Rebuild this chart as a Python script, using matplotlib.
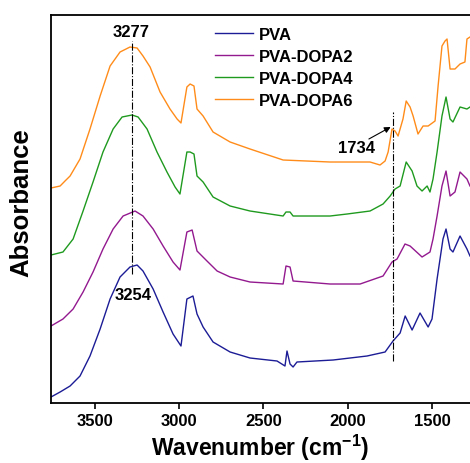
import matplotlib.pyplot as plt

plt.rcParams['font.family'] = ['Liberation Sans', 'DejaVu Sans']
plt.rcParams['font.weight'] = 'bold'
plt.rcParams['mathtext.fontset'] = 'custom'
plt.rcParams['mathtext.rm'] = 'Liberation Sans'
plt.rcParams['mathtext.bf'] = 'Liberation Sans:bold'

# wavenumber (cm-1) and absorbance (offset, arbitrary units)
wn_pva = [3758, 3704, 3645, 3586, 3527, 3467, 3408, 3349, 3290, 3248, 3213, 3153, 3094,
          3035, 2988, 2953, 2917, 2893, 2857, 2798, 2697, 2579, 2419, 2372, 2360, 2342,
          2324, 2301, 2087, 1886, 1779, 1732, 1690, 1660, 1619, 1572, 1524, 1501, 1471,
          1436, 1418, 1394, 1377, 1335, 1294, 1276]
ab_pva = [0.06, 0.11, 0.17, 0.27, 0.47, 0.74, 1.04, 1.26, 1.36, 1.38, 1.32, 1.14, 0.91,
          0.69, 0.57, 1.04, 1.07, 0.89, 0.76, 0.61, 0.51, 0.45, 0.42, 0.37, 0.52, 0.39,
          0.36, 0.41, 0.43, 0.47, 0.51, 0.62, 0.70, 0.87, 0.73, 0.90, 0.76, 0.84, 1.24,
          1.64, 1.74, 1.54, 1.51, 1.67, 1.54, 1.47]

wn_d2 = [3758, 3687, 3627, 3568, 3509, 3450, 3390, 3331, 3260, 3213, 3153, 3094, 3035,
         2994, 2953, 2922, 2893, 2834, 2774, 2697, 2579, 2383, 2366, 2342, 2324, 2105,
         1927, 1791, 1738, 1708, 1661, 1631, 1560, 1513, 1495, 1471, 1442, 1418, 1394,
         1365, 1335, 1294, 1276]
ab_d2 = [0.77, 0.84, 0.94, 1.11, 1.31, 1.54, 1.74, 1.87, 1.92, 1.87, 1.74, 1.57, 1.41,
         1.33, 1.71, 1.73, 1.52, 1.42, 1.32, 1.26, 1.21, 1.19, 1.37, 1.36, 1.22, 1.19,
         1.19, 1.27, 1.41, 1.44, 1.59, 1.57, 1.46, 1.51, 1.64, 1.87, 2.17, 2.32, 2.07,
         2.11, 2.31, 2.24, 2.17]

wn_d4 = [3758, 3687, 3627, 3568, 3509, 3450, 3390, 3337, 3278, 3242, 3189, 3130, 3071,
         3023, 2994, 2953, 2934, 2911, 2893, 2857, 2798, 2697, 2579, 2383, 2366, 2342,
         2324, 2105, 2004, 1868, 1791, 1749, 1720, 1690, 1654, 1619, 1590, 1560, 1530,
         1513, 1495, 1471, 1442, 1418, 1394, 1377, 1335, 1294, 1276]
ab_d4 = [1.48, 1.51, 1.64, 1.92, 2.21, 2.51, 2.74, 2.86, 2.88, 2.86, 2.74, 2.51, 2.31,
         2.16, 2.09, 2.51, 2.51, 2.49, 2.27, 2.21, 2.06, 1.97, 1.92, 1.87, 1.91, 1.91,
         1.87, 1.87, 1.89, 1.92, 1.99, 2.07, 2.14, 2.17, 2.41, 2.32, 2.17, 2.12, 2.17,
         2.11, 2.24, 2.51, 2.87, 3.06, 2.84, 2.81, 2.96, 2.94, 2.96]

wn_d6 = [3758, 3704, 3675, 3645, 3586, 3527, 3467, 3408, 3349, 3290, 3248, 3213, 3171,
         3112, 3053, 3011, 2988, 2953, 2934, 2911, 2893, 2857, 2798, 2697, 2579, 2383,
         2105, 1868, 1809, 1779, 1761, 1738, 1720, 1702, 1673, 1654, 1631, 1613, 1584,
         1554, 1524, 1483, 1465, 1442, 1424, 1412, 1394, 1365, 1335, 1306, 1294, 1276]
ab_d6 = [2.15, 2.17, 2.22, 2.27, 2.44, 2.74, 3.07, 3.37, 3.51, 3.56, 3.55, 3.47, 3.36,
         3.11, 2.94, 2.84, 2.80, 3.16, 3.19, 3.17, 2.94, 2.87, 2.71, 2.61, 2.54, 2.43,
         2.41, 2.41, 2.38, 2.42, 2.51, 2.74, 2.72, 2.67, 2.84, 3.02, 2.96, 2.87, 2.69,
         2.77, 2.77, 2.82, 3.17, 3.57, 3.62, 3.64, 3.34, 3.34, 3.39, 3.41, 3.64, 3.66]

labels = ['PVA', 'PVA-DOPA2', 'PVA-DOPA4', 'PVA-DOPA6']
colors = ['#1c1c96', '#93198f', '#1f9a1f', '#ff8c1a']

fig = plt.figure(figsize=(4.7, 4.64), dpi=100)
ax = fig.add_axes([0.1085, 0.1293, 0.8915, 0.8362])

series = [(wn_pva, ab_pva), (wn_d2, ab_d2), (wn_d4, ab_d4), (wn_d6, ab_d6)]
for (x, y), lab, c in zip(series, labels, colors):
    ax.plot(x, y, color=c, lw=1.0, label=lab, solid_joinstyle='round')

# peak marker lines
ax.plot([3277, 3277], [1.29, 3.62], color='black', lw=0.8, ls='-.')
ax.plot([1734, 1734], [0.42, 2.91], color='black', lw=0.8, ls='-.')
ax.text(3283, 3.72, '3277', ha='center', va='center', fontsize=12, fontweight='bold')
ax.text(3272, 1.09, '3254', ha='center', va='center', fontsize=12, fontweight='bold')
ax.text(1951, 2.56, '1734', ha='center', va='center', fontsize=12, fontweight='bold')
ax.annotate('', xy=(1746, 2.76), xytext=(1875, 2.64),
            arrowprops=dict(arrowstyle='-|>', color='black', lw=0.8, mutation_scale=9,
                            shrinkA=0, shrinkB=0))

ax.set_xlim(3758, 1276)
ax.set_ylim(0, 3.88)
ax.set_yticks([])
ax.set_xticks([3500, 3000, 2500, 2000, 1500])
ax.tick_params(axis='x', direction='out', length=4, width=1.2, labelsize=12)
for lab in ax.get_xticklabels():
    lab.set_fontweight('bold')
for s in ['left', 'bottom', 'top']:
    ax.spines[s].set_linewidth(1.3)
ax.spines['right'].set_visible(False)

ax.set_xlabel('Wavenumber (cm$^{-1}$)', fontsize=16.5, fontweight='bold', labelpad=2.5)
ax.set_ylabel('Absorbance', fontsize=18.5, fontweight='bold')
ax.yaxis.set_label_coords(-0.043, 0.52)

ax.legend(loc='upper left', bbox_to_anchor=(0.391, 0.97), frameon=False,
          borderpad=0, borderaxespad=0, handlelength=2.3, handletextpad=0.36,
          labelspacing=0.42, prop={'weight': 'bold', 'size': 12})

fig.savefig('out.png', dpi=100)
